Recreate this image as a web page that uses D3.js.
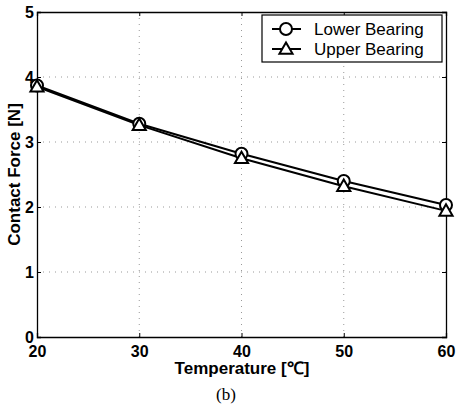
<!DOCTYPE html>
<html>
<head>
<meta charset="utf-8">
<script src="https://cdn.jsdelivr.net/npm/d3@7"></script>
<style>
  body { margin: 0; background: #fff; }
  text { font-family: Arial, "Liberation Sans", sans-serif; }
</style>
</head>
<body>
<svg id="chart" width="456" height="411"></svg>
<script>
// data
var temps = [20, 30, 40, 50, 60]
var lowerBearing = [3.87, 3.28, 2.82, 2.40, 2.03]
var upperBearing = [3.85, 3.26, 2.75, 2.32, 1.94]
var xTicks = [20, 30, 40, 50, 60]
var yTicks = [0, 1, 2, 3, 4, 5]

var svg = d3.select("#chart")
var pLeft = 37, pRight = 446, pTop = 12, pBottom = 337

var x = d3.scaleLinear().domain([20, 60]).range([pLeft, pRight])
var y = d3.scaleLinear().domain([0, 5]).range([pBottom, pTop])

// dotted grid
var grid = svg.append("g")
grid.selectAll(".gx").data(xTicks.slice(1, -1)).enter().append("line")
    .attr("x1", d => x(d)).attr("x2", d => x(d))
    .attr("y1", pTop).attr("y2", pBottom)
    .style("stroke", "#999").style("stroke-width", 1)
    .style("stroke-dasharray", "1,5")
grid.selectAll(".gy").data(yTicks.slice(1, -1)).enter().append("line")
    .attr("x1", pLeft).attr("x2", pRight)
    .attr("y1", d => y(d)).attr("y2", d => y(d))
    .style("stroke", "#999").style("stroke-width", 1)
    .style("stroke-dasharray", "1,5")

// axes
var xAxis = d3.axisBottom(x).tickValues(xTicks).tickFormat(d3.format("d")).tickSize(-4).tickPadding(9)
var yAxis = d3.axisLeft(y).tickValues(yTicks).tickFormat(d3.format("d")).tickSize(-4).tickPadding(3)

var gx = svg.append("g").attr("transform", "translate(0," + pBottom + ")").call(xAxis)
var gy = svg.append("g").attr("transform", "translate(" + pLeft + ",0)").call(yAxis)
svg.append("g").attr("transform", "translate(0," + pTop + ")")
    .call(d3.axisTop(x).tickValues(xTicks).tickSize(-4).tickFormat(""))
svg.append("g").attr("transform", "translate(" + pRight + ",0)")
    .call(d3.axisRight(y).tickValues(yTicks).tickSize(-4).tickFormat(""))

svg.selectAll(".domain").style("stroke", "#000").style("stroke-width", 1.3)
svg.selectAll(".tick line").style("stroke", "#000")
svg.selectAll(".tick text")
    .style("font-size", "16px").style("font-weight", "bold").style("fill", "#000")

// axis titles
svg.append("text")
    .attr("x", 242).attr("y", 374)
    .attr("text-anchor", "middle")
    .style("font-size", "17px").style("font-weight", "bold")
    .text("Temperature [℃]")
svg.append("text")
    .attr("transform", "translate(20," + (pBottom + pTop) / 2 + ") rotate(-90)")
    .attr("text-anchor", "middle")
    .style("font-size", "17px").style("font-weight", "bold")
    .text("Contact Force [N]")
svg.append("text")
    .attr("x", 226).attr("y", 400)
    .attr("text-anchor", "middle")
    .style("font-family", "'Liberation Serif', 'DejaVu Serif', serif")
    .style("font-size", "17px")
    .text("(b)")

// lines
var line = d3.line().x((d, i) => x(temps[i])).y(d => y(d))
var series = [
    {name: "Lower Bearing", values: lowerBearing, marker: "circle"},
    {name: "Upper Bearing", values: upperBearing, marker: "triangle"}
]

var triangle = d3.symbol().type(d3.symbolTriangle).size(75)

series.forEach(function(s) {
    svg.append("path")
        .datum(s.values)
        .attr("d", line)
        .style("fill", "none").style("stroke", "#000").style("stroke-width", 2)
})
series.forEach(function(s) {
    var g = svg.append("g")
    if (s.marker == "circle") {
        g.selectAll("circle").data(s.values).enter().append("circle")
            .attr("cx", (d, i) => x(temps[i]))
            .attr("cy", d => y(d))
            .attr("r", 6)
            .style("fill", "#fff").style("stroke", "#000").style("stroke-width", 2)
    } else {
        g.selectAll("path").data(s.values).enter().append("path")
            .attr("d", triangle)
            .attr("transform", (d, i) => "translate(" + x(temps[i]) + "," + (y(d) + 1) + ")")
            .style("fill", "#fff").style("stroke", "#000").style("stroke-width", 2)
    }
})

// legend
var legend = svg.append("g")
legend.append("rect")
    .attr("x", 262).attr("y", 15).attr("width", 180).attr("height", 47)
    .style("fill", "#fff").style("stroke", "#000").style("stroke-width", 1.2)

series.forEach(function(s, i) {
    var ly = 29 + i * 20
    legend.append("line")
        .attr("x1", 272).attr("x2", 301).attr("y1", ly).attr("y2", ly)
        .style("stroke", "#000").style("stroke-width", 2)
    if (s.marker == "circle") {
        legend.append("circle").attr("cx", 286).attr("cy", ly).attr("r", 6)
            .style("fill", "#fff").style("stroke", "#000").style("stroke-width", 2)
    } else {
        legend.append("path").attr("d", triangle)
            .attr("transform", "translate(286," + (ly + 1) + ")")
            .style("fill", "#fff").style("stroke", "#000").style("stroke-width", 2)
    }
    legend.append("text")
        .attr("x", 314).attr("y", ly + 6)
        .style("font-size", "17px")
        .text(s.name)
})
</script>
</body>
</html>
